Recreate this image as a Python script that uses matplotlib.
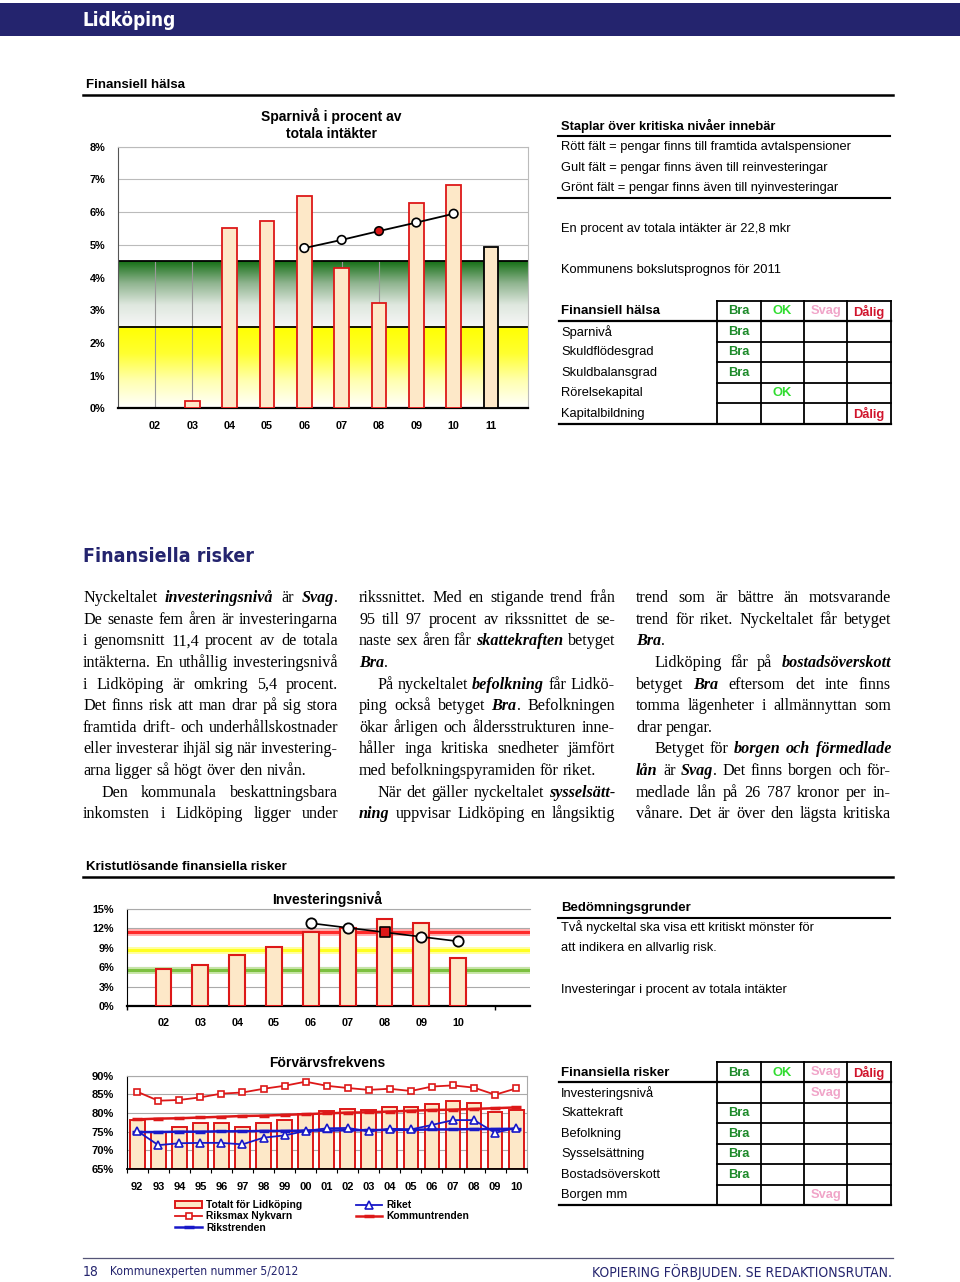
import numpy as np
import matplotlib
matplotlib.use('Agg')
import matplotlib.pyplot as plt
from matplotlib.lines import Line2D
from matplotlib.patches import Rectangle
from matplotlib.colors import LinearSegmentedColormap

# ---- data ----
years1 = ['02', '03', '04', '05', '06', '07', '08', '09', '10', '11']
spar = [None, 0.23, 5.51, 5.73, 6.50, 4.29, 3.21, 6.28, 6.83, 4.92]
spar_trend = [None, None, None, None, 4.90, 5.15, 5.42, 5.68, 5.95, None]

years2 = ['02', '03', '04', '05', '06', '07', '08', '09', '10']
inv = [5.77, 6.39, 7.84, 9.07, 11.4, 12.1, 13.5, 12.8, 7.42]
inv_trend = [None, None, None, None, 12.8, 12.1, 11.4, 10.7, 10.0]
inv_levels = [11.5, 8.6, 5.6]

years3 = ['92', '93', '94', '95', '96', '97', '98', '99', '00', '01',
          '02', '03', '04', '05', '06', '07', '08', '09', '10']
totalt = [78.0, 75.0, 76.2, 77.2, 77.2, 76.3, 77.2, 78.1, 79.8, 80.5,
          81.2, 80.7, 81.5, 81.5, 82.4, 83.3, 82.8, 80.2, 80.7]
riksmax = [85.7, 83.3, 83.5, 84.2, 85.2, 85.5, 86.5, 87.3, 88.4, 87.3,
           86.7, 86.2, 86.5, 85.9, 87.1, 87.4, 86.8, 84.9, 86.6]
riket = [75.2, 71.4, 71.9, 72.0, 72.0, 71.6, 73.4, 74.0, 75.2, 75.9,
         76.0, 75.1, 75.8, 75.6, 76.8, 78.1, 78.1, 74.7, 76.0]
kommuntrend = [78.3, 78.5, 78.6, 78.8, 79.0, 79.2, 79.3, 79.5, 79.7, 79.9,
               80.1, 80.2, 80.4, 80.6, 80.8, 80.9, 81.1, 81.3, 81.5]
rikstrend = [74.9, 74.9, 75.0, 75.0, 75.1, 75.1, 75.2, 75.2, 75.3, 75.3,
             75.4, 75.4, 75.5, 75.5, 75.6, 75.6, 75.7, 75.7, 75.8]

grades = ['Bra', 'OK', 'Svag', 'Dålig']
halsa_rows = ['Sparnivå', 'Skuldflödesgrad', 'Skuldbalansgrad',
              'Rörelsekapital', 'Kapitalbildning']
halsa_grade = ['Bra', 'Bra', 'Bra', 'OK', 'Dålig']
risk_rows = ['Investeringsnivå', 'Skattekraft', 'Befolkning',
             'Sysselsättning', 'Bostadsöverskott', 'Borgen mm']
risk_grade = ['Svag', 'Bra', 'Bra', 'Bra', 'Bra', 'Svag']

col1 = ['Nyckeltalet *investeringsnivå* är *Svag*.',
        'De senaste fem åren är investeringarna',
        'i genomsnitt 11,4 procent av de totala',
        'intäkterna. En uthållig investeringsnivå',
        'i Lidköping är omkring 5,4 procent.',
        'Det finns risk att man drar på sig stora',
        'framtida drift- och underhållskostnader',
        'eller investerar ihjäl sig när investering-',
        'arna ligger så högt över den nivån.|',
        '>Den kommunala beskattningsbara',
        'inkomsten i Lidköping ligger under']
col2 = ['rikssnittet. Med en stigande trend från',
        '95 till 97 procent av rikssnittet de se-',
        'naste sex åren får *skattekraften* betyget',
        '*Bra*.|',
        '>På nyckeltalet *befolkning* får Lidkö-',
        'ping också betyget *Bra*. Befolkningen',
        'ökar årligen och åldersstrukturen inne-',
        'håller inga kritiska snedheter jämfört',
        'med befolkningspyramiden för riket.|',
        '>När det gäller nyckeltalet *sysselsätt-*',
        '*ning* uppvisar Lidköping en långsiktig']
col3 = ['trend som är bättre än motsvarande',
        'trend för riket. Nyckeltalet får betyget',
        '*Bra*.|',
        '>Lidköping får på *bostadsöverskott*',
        'betyget *Bra* eftersom det inte finns',
        'tomma lägenheter i allmännyttan som',
        'drar pengar.|',
        '>Betyget för *borgen och förmedlade*',
        '*lån* är *Svag*. Det finns borgen och för-',
        'medlade lån på 26 787 kronor per in-',
        'vånare. Det är över den lägsta kritiska']

# ---- page helpers (pixel coordinates, y down) ----
W, H = 960, 1282
navy = '#24246e'
peach = '#fde8c8'
red = '#dd1818'
blue = '#1818c8'
sans = ['Liberation Sans', 'DejaVu Sans']
serif = ['Liberation Serif', 'DejaVu Serif']

fig = plt.figure(figsize=(9.6, 12.82), dpi=100)
fig.patch.set_facecolor('white')
R = fig.canvas.get_renderer()


def fx(x):
    return x / W


def fy(y):
    return 1 - y / H


def txt(x, y, s, **kw):
    kw.setdefault('family', sans)
    kw.setdefault('va', 'center')
    return fig.text(fx(x), fy(y), s, **kw)


def narrow_txt(x, y, s, target, size, **kw):
    # condensed look: squeeze to the measured width of the original
    kw.setdefault('family', 'DejaVu Sans')
    kw.setdefault('stretch', 'condensed')
    t = txt(x, y, s, fontsize=size, **kw)
    w = t.get_window_extent(renderer=R).width
    if w > target:
        t.set_fontsize(size * target / w)
    return t


def hline(x0, x1, y, lw=1.3, color='black'):
    fig.add_artist(Line2D([fx(x0), fx(x1)], [fy(y), fy(y)], lw=lw,
                          color=color, transform=fig.transFigure))


def vline(x, y0, y1, lw=1.3, color='black'):
    fig.add_artist(Line2D([fx(x), fx(x)], [fy(y0), fy(y1)], lw=lw,
                          color=color, transform=fig.transFigure))


def add_ax(l, t, r, b):
    return fig.add_axes([fx(l), fy(b), (r - l) / W, (b - t) / H])


def width_of(s, **kw):
    t = fig.text(0, 0, s, **kw)
    w = t.get_window_extent(renderer=R).width
    t.remove()
    return w


# ---- header ----
fig.add_artist(Rectangle((0, fy(36)), 1, 33 / H, transform=fig.transFigure,
                         color=navy, lw=0))
narrow_txt(83, 21, 'Lidköping', 94, 15, color='white', weight='bold')

txt(86, 85, 'Finansiell hälsa', fontsize=9.5, weight='bold')
hline(83, 893, 95, lw=1.8)

# ---- chart 1: Sparnivå ----
ax1 = add_ax(117.7, 146.7, 528.3, 408.3)
x1 = np.arange(len(years1))
ax1.set_xlim(-1, 10)
ax1.set_ylim(0, 8)
for v in range(1, 9):
    ax1.axhline(v, color='#bbbbbb', lw=0.8, zorder=0)
grn = LinearSegmentedColormap.from_list('g', ['#f6f6f6', '#dfe8df', '#8fb48f', '#156f15'])
yel = LinearSegmentedColormap.from_list('y', ['#ffffff', '#ffffb0', '#ffff30', '#ffff00'])
grad = np.linspace(0, 1, 256).reshape(-1, 1)
ax1.imshow(grad, extent=[-1, 10, 2.5, 4.5], origin='lower', aspect='auto',
           cmap=grn, zorder=1)
ax1.imshow(grad, extent=[-1, 10, 0, 2.5], origin='lower', aspect='auto',
           cmap=yel, zorder=1)
ax1.vlines(x1, 0, 4.5, color='#999999', lw=0.8, zorder=1.5)
ax1.axhline(2.5, color='black', lw=1.3, zorder=2)
ax1.axhline(4.5, color='black', lw=1.3, zorder=2)
for i, v in enumerate(spar):
    if v is None:
        continue
    ax1.bar(x1[i], v, width=0.4, color=peach,
            edgecolor='black' if i == len(spar) - 1 else red, lw=1.3, zorder=3)
tx = [x1[i] for i, v in enumerate(spar_trend) if v is not None]
tv = [v for v in spar_trend if v is not None]
ax1.plot(tx, tv, color='black', lw=1.3, zorder=4)
fc = ['white'] * len(tx)
fc[2] = red
ax1.scatter(tx, tv, s=38, c=fc, edgecolors='black', linewidths=1.2, zorder=5)
ax1.set_xticks(x1)
ax1.set_xticklabels(years1)
ax1.set_yticks(range(0, 9))
ax1.set_yticklabels([f'{v}%' for v in range(0, 9)])
ax1.tick_params(length=0, pad=9, labelsize=7.8)
for lab in ax1.get_xticklabels() + ax1.get_yticklabels():
    lab.set_fontweight('bold')
    lab.set_family(sans)
for s in ['top', 'right']:
    ax1.spines[s].set_color('#bbbbbb')
ax1.spines['left'].set_color('#555555')
ax1.spines['bottom'].set_linewidth(1.6)
ax1.set_axisbelow(True)
txt(331, 116, 'Sparnivå i procent av', fontsize=10, weight='bold', ha='center')
txt(331, 134, 'totala intäkter', fontsize=10, weight='bold', ha='center')

# ---- right texts top ----
txt(561, 126, 'Staplar över kritiska nivåer innebär', fontsize=9.3, weight='bold')
hline(558, 890, 136, lw=1.5)
txt(561, 147, 'Rött fält = pengar finns till framtida avtalspensioner', fontsize=9.3)
txt(561, 167.5, 'Gult fält = pengar finns även till reinvesteringar', fontsize=9.3)
txt(561, 188, 'Grönt fält = pengar finns även till nyinvesteringar', fontsize=9.3)
hline(558, 890, 197.5, lw=1.5)
txt(561, 229, 'En procent av totala intäkter är 22,8 mkr', fontsize=9.3)
txt(561, 270, 'Kommunens bokslutsprognos för 2011', fontsize=9.3)

gcol = {'Bra': '#1d8a2a', 'OK': '#30dd30', 'Svag': '#f0a4c8', 'Dålig': '#d0142c'}
cx = [716.7, 760.7, 804, 847.3, 890.7]


def grade_table(top, title, rows, marks):
    hb = top + 20.3
    step = 20.5
    bot = hb + step * len(rows)
    hline(cx[0], cx[-1], top)
    hline(559, cx[-1], hb, lw=1.6)
    hline(559, cx[-1], bot, lw=1.6)
    for k in range(1, len(rows)):
        hline(cx[0], cx[-1], hb + step * k)
    for x in cx:
        vline(x, top, bot)
    txt(561, top + 10.5, title, fontsize=9.5, weight='bold')
    for j, g in enumerate(grades):
        txt((cx[j] + cx[j + 1]) / 2, top + 10.5, g, fontsize=9.3,
            weight='bold', ha='center', color=gcol[g])
    for k, (r, m) in enumerate(zip(rows, marks)):
        yy = hb + step * (k + 0.5)
        txt(561, yy, r, fontsize=9.3)
        j = grades.index(m)
        txt((cx[j] + cx[j + 1]) / 2, yy, m, fontsize=9.3, weight='bold',
            ha='center', color=gcol[m])


grade_table(301, 'Finansiell hälsa', halsa_rows, halsa_grade)

# ---- Finansiella risker text ----
narrow_txt(83, 557, 'Finansiella risker', 171, 17.5, weight='bold', color=navy)

reg = dict(family=serif, fontsize=11.6)
bi = dict(family=serif, fontsize=11.6, weight='bold', style='italic')
space_w = width_of('n n', **reg) - width_of('nn', **reg)


def rich_lines(x0, width, lines, y0=602, dy=21.63):
    for i, line in enumerate(lines):
        y = y0 + i * dy
        indent = 0
        justify = True
        if line.startswith('>'):
            line = line[1:]
            indent = 18
        if line.endswith('|'):
            line = line[:-1]
            justify = False
        words, cur, buf, bold = [], [], '', False
        for ch in line + ' ':
            if ch == '*':
                if buf:
                    cur.append((buf, bold))
                    buf = ''
                bold = not bold
            elif ch == ' ':
                if buf:
                    cur.append((buf, bold))
                    buf = ''
                if cur:
                    words.append(cur)
                    cur = []
            else:
                buf += ch
        ww = [[width_of(s, **(bi if b else reg)) for s, b in w] for w in words]
        total = sum(sum(w) for w in ww)
        avail = width - indent
        if justify and len(words) > 1:
            gap = (avail - total) / (len(words) - 1)
        else:
            gap = space_w
        x = x0 + indent
        for w, wl in zip(words, ww):
            for (s, b), wd in zip(w, wl):
                fig.text(fx(x), fy(y), s, va='baseline', **(bi if b else reg))
                x += wd
            x += gap


rich_lines(83, 255, col1)
rich_lines(359, 256, col2)
rich_lines(636, 255, col3)

txt(86, 867, 'Kristutlösande finansiella risker', fontsize=9.5, weight='bold')
hline(83, 893, 877, lw=1.8)

# ---- chart 2: Investeringsnivå ----
ax2 = add_ax(126.7, 909, 530, 1006)
x2 = np.arange(len(years2))
ax2.set_xlim(-1, 9.95)
ax2.set_ylim(0, 15)
for v in range(3, 16, 3):
    ax2.axhline(v, color='#aaaaaa', lw=0.8, zorder=0)
for lv, c1, c2 in zip(inv_levels, ['#ff2a2a', '#ffff20', '#7cc040'],
                      ['#ffb0b0', '#ffffa0', '#c8e6a8']):
    ax2.axhline(lv, color=c2, lw=5, zorder=1)
    ax2.axhline(lv, color=c1, lw=2.2, zorder=1)
ax2.bar(x2, inv, width=0.43, color=peach, edgecolor=red, lw=1.5, zorder=3)
tx = [x2[i] for i, v in enumerate(inv_trend) if v is not None]
tv = [v for v in inv_trend if v is not None]
ax2.plot(tx, tv, color='black', lw=1.2, zorder=4)
ax2.scatter([tx[k] for k in (0, 1, 3, 4)], [tv[k] for k in (0, 1, 3, 4)],
            s=55, c='white', edgecolors='black', linewidths=1.3, zorder=5)
ax2.scatter([tx[2]], [tv[2]], s=55, marker='s', c=red, edgecolors='black',
            linewidths=1.2, zorder=5)
ax2.set_xticks(x2)
ax2.set_xticklabels(years2)
ax2.set_xticks(np.arange(-1, 10), minor=True)
ax2.set_yticks(range(0, 16, 3))
ax2.set_yticklabels([f'{v}%' for v in range(0, 16, 3)])
ax2.tick_params(length=0, pad=9, labelsize=7.8)
ax2.tick_params(axis='x', which='minor', length=3, width=1)
for lab in ax2.get_xticklabels() + ax2.get_yticklabels():
    lab.set_fontweight('bold')
    lab.set_family(sans)
ax2.spines['top'].set_color('#aaaaaa')
ax2.spines['right'].set_visible(False)
ax2.spines['bottom'].set_linewidth(1.6)
txt(327, 899, 'Investeringsnivå', fontsize=10, weight='bold', ha='center')

txt(561, 908, 'Bedömningsgrunder', fontsize=9.5, weight='bold')
hline(558, 890, 918, lw=1.5)
txt(561, 927, 'Två nyckeltal ska visa ett kritiskt mönster för', fontsize=9.3)
txt(561, 948, 'att indikera en allvarlig risk.', fontsize=9.3)
txt(561, 990, 'Investeringar i procent av totala intäkter', fontsize=9.3)

# ---- chart 3: Förvärvsfrekvens ----
ax3 = add_ax(126.7, 1075.7, 526.7, 1169)
x3 = np.arange(len(years3))
ax3.set_xlim(-0.5, 18.5)
ax3.set_ylim(65, 90)
for v in range(70, 91, 5):
    ax3.axhline(v, color='#aaaaaa', lw=0.8, zorder=0)
h_tot = ax3.bar(x3, np.array(totalt) - 65, bottom=65, width=0.7, color=peach,
                edgecolor=red, lw=1.4, zorder=2, label='Totalt för Lidköping')
h_max, = ax3.plot(x3, riksmax, color=red, lw=1.3, marker='s', ms=5,
                  mfc='white', mec=red, mew=1.2, zorder=4, label='Riksmax Nykvarn')
h_rt, = ax3.plot(x3, rikstrend, color=blue, lw=1.8, marker='_', ms=7,
                 mew=2.5, zorder=3, label='Rikstrenden')
h_riket, = ax3.plot(x3, riket, color=blue, lw=1.3, marker='^', ms=5.5,
                    mfc='white', mec=blue, mew=1.2, zorder=4, label='Riket')
h_kt, = ax3.plot(x3, kommuntrend, color=red, lw=1.8, marker='_', ms=7,
                 mew=2.5, zorder=3, label='Kommuntrenden')
ax3.set_xticks(x3)
ax3.set_xticklabels(years3)
ax3.set_xticks(np.arange(-0.5, 19, 1), minor=True)
ax3.set_yticks(range(65, 91, 5))
ax3.set_yticklabels([f'{v}%' for v in range(65, 91, 5)])
ax3.tick_params(length=0, pad=9, labelsize=8)
ax3.tick_params(axis='x', which='minor', length=3, width=0.8)
for lab in ax3.get_xticklabels() + ax3.get_yticklabels():
    lab.set_fontweight('bold')
    lab.set_family(sans)
for s in ['top', 'right']:
    ax3.spines[s].set_color('#aaaaaa')
ax3.spines['bottom'].set_linewidth(1.3)
txt(327, 1063, 'Förvärvsfrekvens', fontsize=10, weight='bold', ha='center')
fig.legend([h_tot, h_max, h_rt, h_riket, h_kt],
           ['Totalt för Lidköping', 'Riksmax Nykvarn', 'Rikstrenden',
            'Riket', 'Kommuntrenden'],
           loc='upper left', bbox_to_anchor=(fx(170), fy(1195)), ncol=2,
           frameon=False, handlelength=2.6, handletextpad=0.4,
           labelspacing=0.12, columnspacing=5.2, borderpad=0,
           prop=dict(family=sans, weight='bold', size=7.4))

grade_table(1062, 'Finansiella risker', risk_rows, risk_grade)

# ---- footer ----
hline(83, 893, 1258, lw=0.9, color='#555577')
narrow_txt(83, 1272, '18', 30, 10, color=navy)
narrow_txt(110, 1272, 'Kommunexperten nummer 5/2012', 187, 10, color=navy)
narrow_txt(892, 1272, 'KOPIERING FÖRBJUDEN. SE REDAKTIONSRUTAN.', 304, 10,
           color=navy, ha='right')

fig.savefig('out.png', dpi=100)
